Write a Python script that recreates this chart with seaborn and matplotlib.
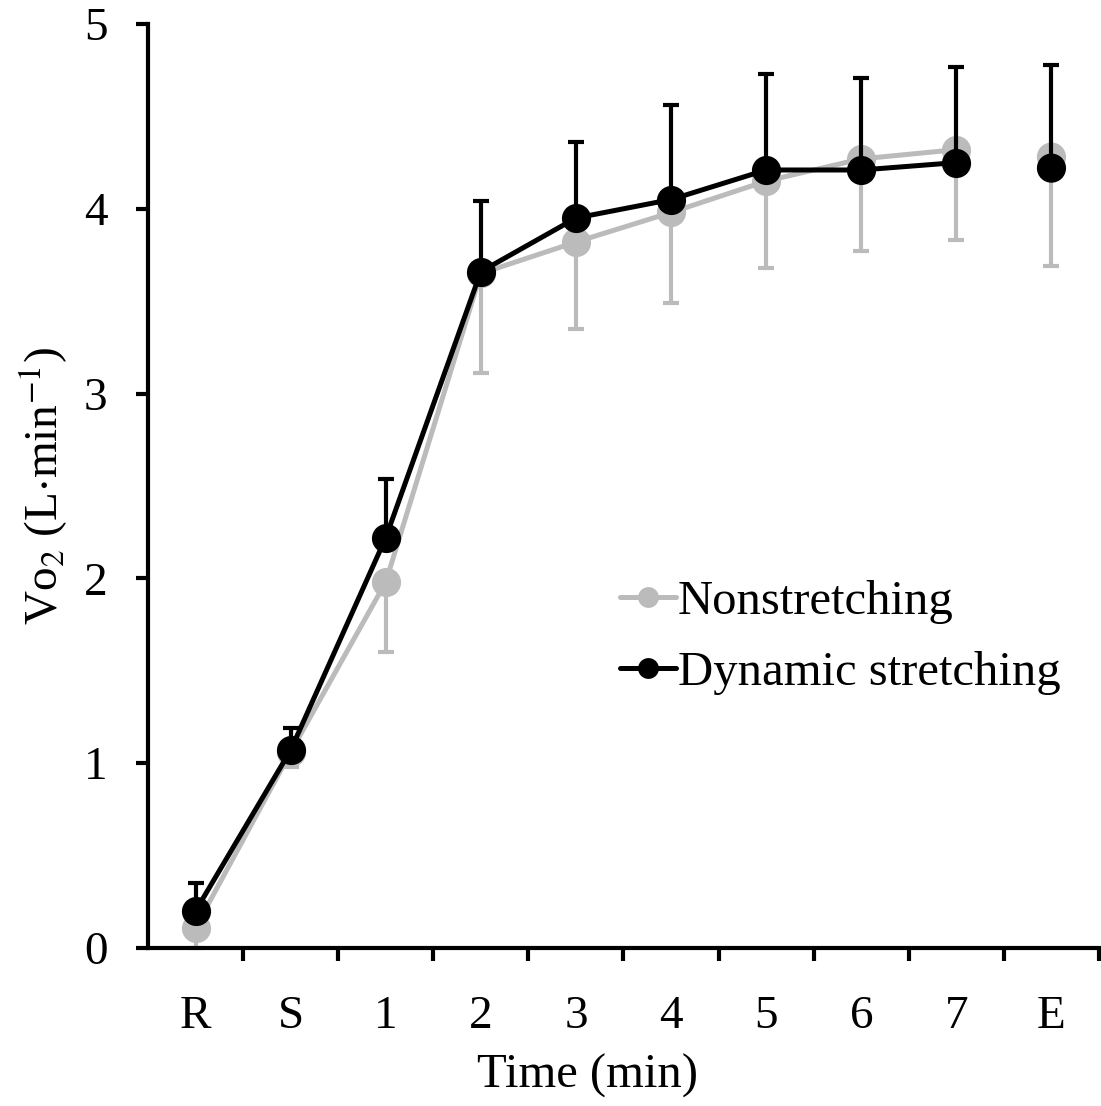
import numpy as np
import pandas as pd
import matplotlib
matplotlib.use('Agg')
import matplotlib.pyplot as plt
from matplotlib.lines import Line2D
import seaborn as sns

# values (L/min), mean and SD
times = ['R', 'S', '1', '2', '3', '4', '5', '6', '7', 'E']
non_mean = [0.11, 1.06, 1.98, 3.65, 3.82, 3.98, 4.15, 4.27, 4.32, 4.28]
non_sd = [0.11, 0.08, 0.38, 0.54, 0.47, 0.49, 0.47, 0.50, 0.49, 0.59]
dyn_mean = [0.20, 1.07, 2.22, 3.66, 3.95, 4.05, 4.21, 4.21, 4.25, 4.22]
dyn_sd = [0.15, 0.12, 0.32, 0.38, 0.41, 0.51, 0.52, 0.50, 0.52, 0.56]
groups = ['Nonstretching', 'Dynamic stretching']

grey = '#bbbbbb'
pal = {'Nonstretching': grey, 'Dynamic stretching': 'black'}

pos = np.arange(len(times))
df = pd.DataFrame({
    'pos': np.concatenate([pos, pos]),
    'time': times + times,
    'vo2': non_mean + dyn_mean,
    'sd': non_sd + dyn_sd,
    'group': [groups[0]] * len(times) + [groups[1]] * len(times),
})
dfLine = df[df['time'] != 'E']
dfEnd = df[df['time'] == 'E']

sns.set_style('ticks')
plt.rcParams['font.family'] = ['Liberation Serif', 'DejaVu Serif']
plt.rcParams['mathtext.fontset'] = 'stix'
plt.rcParams['text.color'] = 'black'
plt.rcParams['axes.labelcolor'] = 'black'
plt.rcParams['xtick.color'] = 'black'
plt.rcParams['ytick.color'] = 'black'
plt.rcParams['axes.edgecolor'] = 'black'

fig = plt.figure(figsize=(11.01, 11.06), dpi=100)
ax = fig.add_axes([0.1344, 0.1429, 0.8638, 0.8354])

lw = 3.6
ms = 21

# one sided error bars: grey goes down, black goes up
ax.errorbar(pos, non_mean, yerr=[non_sd, np.zeros(len(times))], fmt='none',
            ecolor=grey, elinewidth=3, capsize=5.5, capthick=3, zorder=1.5, clip_on=False)

sns.lineplot(data=dfLine, x='pos', y='vo2', hue='group', hue_order=groups, palette=pal,
             marker='o', markersize=ms, markeredgewidth=0, linewidth=lw,
             errorbar=None, legend=False, ax=ax, zorder=2)
sns.scatterplot(data=dfEnd, x='pos', y='vo2', hue='group', hue_order=groups, palette=pal,
                s=ms ** 2, linewidth=0, legend=False, ax=ax, zorder=2.5)

ax.errorbar(pos, dyn_mean, yerr=[np.zeros(len(times)), dyn_sd], fmt='none',
            ecolor='black', elinewidth=3, capsize=5.5, capthick=3, zorder=3, clip_on=False)

ax.set_xlim(-0.5, len(times) - 0.5)
ax.set_ylim(0, 5)
ax.set_xticks(pos)
ax.set_xticklabels(times)
ax.set_xticks(np.arange(len(times)) + 0.5, minor=True)
ax.set_yticks(np.arange(0, 6))
ax.tick_params(axis='x', which='major', length=0, pad=34, labelsize=34)
ax.tick_params(axis='x', which='minor', length=9, width=3, direction='out')
ax.tick_params(axis='y', which='major', length=9, width=3, direction='out', pad=20, labelsize=34)
sns.despine(ax=ax)
for s in ['left', 'bottom']:
    ax.spines[s].set_linewidth(3)

ax.set_xlabel('Time (min)', fontsize=35)
ax.set_ylabel(r'Vo$_2$ (L$\cdot$min$^{-1}$)', fontsize=34)
ax.xaxis.set_label_coords(0.462, -0.114)
ax.yaxis.set_label_coords(-0.082, 0.5)

handles = [Line2D([], [], color=pal[g], marker='o', markersize=15, markeredgewidth=0, linewidth=lw)
           for g in groups]
ax.legend(handles, groups, loc='upper left', bbox_to_anchor=(0.496, 0.398), frameon=False,
          fontsize=35, handlelength=1.15, handletextpad=0.05, borderpad=0,
          borderaxespad=0, labelspacing=0.55)

fig.savefig('out.png', dpi=100)
